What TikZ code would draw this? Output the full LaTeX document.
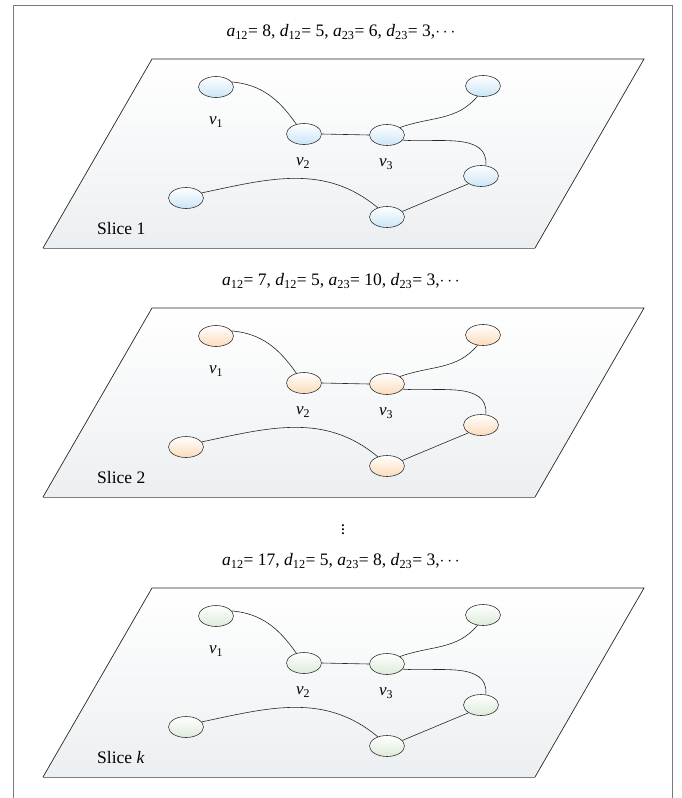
\documentclass[tikz,border=0pt]{standalone}
\usepackage{fontspec}
\setmainfont{Liberation Serif}
\usetikzlibrary{shapes.geometric}
\definecolor{framecol}{HTML}{7A7A7A}
\definecolor{planebot}{HTML}{ECEFF1}
\definecolor{nblue}{HTML}{CBE5F6}
\definecolor{norange}{HTML}{FCDBBA}
\definecolor{ngreen}{HTML}{DDEBD9}
\newcommand\sbs[1]{\textsubscript{#1}}
\newcommand\myslice[5]{%
  \begin{scope}[shift={(0,#2)}]
    \shade[top color=white, bottom color=planebot] (152,59) -- (644,59) -- (535,248) -- (43,248) -- cycle;
    \draw[planeedge] (43,248) -- (152,59) -- (644,59) -- (535,248);
    \draw[planeshadow] (535,248.6) -- (43,248.6);
    \node[titletext] (#1t) at (341,32) {#5};
    \node[vert=#3] (#1a) at (216,87) {};
    \node[vert=#3] (#1b) at (304,134) {};
    \node[vert=#3] (#1c) at (387,135) {};
    \node[vert=#3] (#1d) at (483,86) {};
    \node[vert=#3] (#1e) at (481,176) {};
    \node[vert=#3] (#1f) at (387,217) {};
    \node[vert=#3] (#1g) at (186,198) {};
    \node[lbl] (#1l1) at (216,122) {\textit{v}\sbs{1}};
    \node[lbl] (#1l2) at (303,163) {\textit{v}\sbs{2}};
    \node[lbl] (#1l3) at (386,164) {\textit{v}\sbs{3}};
    \node[slicetext, anchor=west] (#1s) at (97,229) {#4};
    \draw[edge] (#1a.18) to[out=-5,in=125] (#1b.128);
    \draw[edge] (#1b.east) -- (#1c.west);
    \draw[edge] (#1c.30) to[out=20,in=-130] (#1d.-118);
    \draw[edge] (#1c.-18) to[out=-5,in=85] (#1e.65);
    \draw[edge] (#1g.18) to[out=12,in=140] (#1f.135);
    \draw[edge] (#1f.20) -- (#1e.-148);
  \end{scope}}
\begin{document}
\begin{tikzpicture}[x=1pt,y=-1pt,
  vert/.style={ellipse, draw=black!80, line width=0.6pt, minimum width=35pt, minimum height=21pt, inner sep=0pt, top color=white, bottom color=#1},
  edge/.style={line width=0.6pt, black!85},
  planeedge/.style={line width=0.7pt, black!85},
  planeshadow/.style={line width=1.6pt, black!50},
  titletext/.style={font=\fontsize{17.5}{20}\selectfont, inner sep=0pt},
  slicetext/.style={font=\fontsize{17.5}{20}\selectfont, inner sep=0pt},
  lbl/.style={font=\fontsize{17}{19}\selectfont, inner sep=0pt}]
\useasboundingbox (0,0) rectangle (682,798);
\draw[framecol, line width=1.2pt] (13.3,799) -- (13.3,5.7) -- (672.7,5.7) -- (672.7,799);
\myslice{p}{0}{nblue}{Slice 1}{\textit{a}\sbs{12}= 8, \textit{d}\sbs{12}= 5, \textit{a}\sbs{23}= 6, \textit{d}\sbs{23}= 3,$\cdots$}
\myslice{q}{249}{norange}{Slice 2}{\textit{a}\sbs{12}= 7, \textit{d}\sbs{12}= 5, \textit{a}\sbs{23}= 10, \textit{d}\sbs{23}= 3,$\cdots$}
\node[titletext] (dots) at (343,527) {$\vdots$};
\myslice{r}{529}{ngreen}{Slice \textit{k}}{\textit{a}\sbs{12}= 17, \textit{d}\sbs{12}= 5, \textit{a}\sbs{23}= 8, \textit{d}\sbs{23}= 3,$\cdots$}
\end{tikzpicture}
\end{document}
